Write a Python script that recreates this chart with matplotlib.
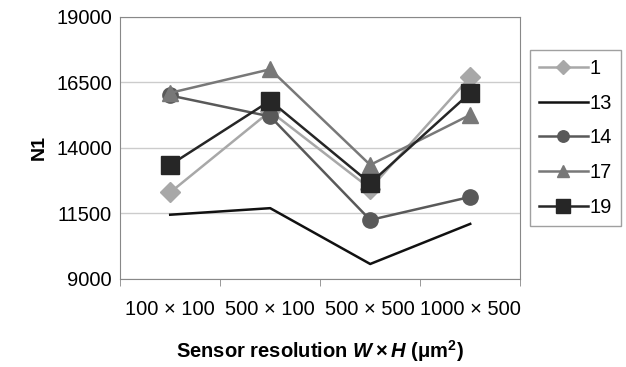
import matplotlib.pyplot as plt
import numpy as np

plt.rcParams['font.family'] = 'Liberation Sans'
plt.rcParams['mathtext.fontset'] = 'custom'
plt.rcParams['mathtext.rm'] = 'Liberation Sans:bold'
plt.rcParams['mathtext.it'] = 'Liberation Sans:italic:bold'
plt.rcParams['mathtext.bf'] = 'Liberation Sans:bold'

categories = ['100 × 100', '500 × 100', '500 × 500', '1000 × 500']
series_names = ['1', '13', '14', '17', '19']
s1 = [12300, 15400, 12450, 16700]
s13 = [11450, 11700, 9570, 11100]
s14 = [16000, 15200, 11250, 12130]
s17 = [16100, 17000, 13350, 15260]
s19 = [13350, 15800, 12650, 16100]
yticks = [9000, 11500, 14000, 16500, 19000]

fig = plt.figure(figsize=(6.26, 3.67), dpi=100)
ax = fig.add_axes([0.192, 0.240, 0.639, 0.714])

x = np.arange(len(categories))
styles = [
    (s1, '#a8a8a8', 'D', 10),
    (s13, '#111111', None, 0),
    (s14, '#595959', 'o', 11),
    (s17, '#787878', '^', 12),
    (s19, '#262626', 's', 12.5),
]
for name, (vals, col, mk, ms) in zip(series_names, styles):
    ax.plot(x, vals, color=col, marker=mk, markersize=ms, lw=1.8, label=name)

ax.set_xlim(-0.5, len(categories) - 0.5)
ax.set_ylim(9000, 19000)
ax.set_yticks(yticks)
ax.set_yticklabels([str(v) for v in yticks], fontsize=14.5)
ax.tick_params(axis='y', length=0, pad=6)
ax.set_xticks(x)
ax.set_xticklabels(categories, fontsize=14.5)
ax.set_xticks(np.arange(-0.5, len(categories)), minor=True)
ax.tick_params(axis='x', which='major', length=0, pad=15)
ax.tick_params(axis='x', which='minor', length=5, color='#888888')
ax.grid(axis='y', color='#cccccc', lw=1)
ax.set_axisbelow(True)
for sp in ax.spines.values():
    sp.set_color('#888888')

ax.set_ylabel('N1', fontsize=14, fontweight='bold', labelpad=6)
ax.set_xlabel(r'Sensor resolution $W\times H$ ($\mathrm{\mu m}^{2}$)', fontsize=14.5, fontweight='bold', labelpad=14)

leg = ax.legend(loc='upper left', bbox_to_anchor=(0.847, 0.864), bbox_transform=fig.transFigure,
                fontsize=14.5, frameon=True, fancybox=False, handlelength=2.4, handletextpad=0.1,
                labelspacing=0.78, borderaxespad=0, borderpad=0.45, markerscale=0.75)
leg.get_frame().set_edgecolor('#888888')
leg.get_frame().set_linewidth(1)

fig.savefig('out.png', dpi=100)
